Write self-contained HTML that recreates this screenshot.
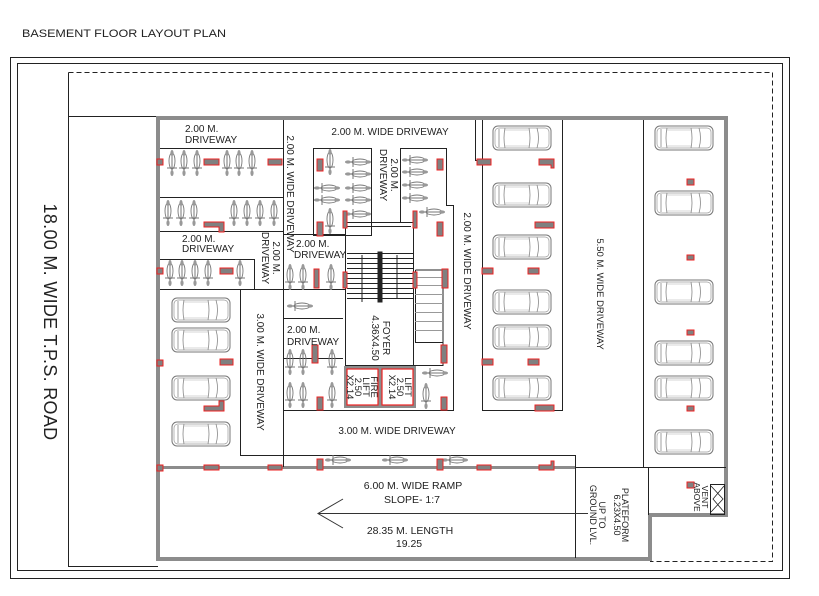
<!DOCTYPE html>
<html><head><meta charset="utf-8"><style>
html,body{margin:0;padding:0;background:#fff;}
svg{display:block;}
text{font-family:"Liberation Sans",sans-serif;fill:#222;}
</style></head><body>
<svg width="819" height="596" viewBox="0 0 819 596" xmlns="http://www.w3.org/2000/svg">
<defs>
 <g id="car">
  <rect x="0" y="0" width="58" height="24" rx="5" fill="none" stroke="#777" stroke-width="1"/>
  <rect x="2" y="2" width="54" height="20" rx="4" fill="none" stroke="#999" stroke-width="0.7"/>
  <path d="M12 2 Q10 12 12 22 M36 2 Q38 12 36 22 M44 2 Q47 12 44 22 M6 3 L6 21" fill="none" stroke="#888" stroke-width="0.8"/>
  <path d="M12 4 L36 4 M12 20 L36 20" stroke="#aaa" stroke-width="0.6"/>
 </g>
 <g id="bike">
  <line x1="0" y1="-13" x2="0" y2="13" stroke="#777" stroke-width="1"/>
  <ellipse cx="0" cy="-2" rx="3" ry="8" fill="none" stroke="#777" stroke-width="0.9"/>
  <line x1="-5" y1="5" x2="5" y2="5" stroke="#777" stroke-width="1"/>
  <ellipse cx="0" cy="-10" rx="1.6" ry="3" fill="#999"/>
  <ellipse cx="0" cy="10" rx="1.6" ry="3" fill="#999"/>
 </g>
 <g id="bikeh"><use href="#bike" transform="rotate(90)"/></g>
</defs>

<text x="22" y="37" font-size="11" textLength="204" lengthAdjust="spacingAndGlyphs">BASEMENT FLOOR LAYOUT PLAN</text>

<rect x="10.5" y="57.5" width="779" height="521" fill="none" stroke="#222" stroke-width="1"/>
<rect x="17.5" y="63.5" width="765" height="507" fill="none" stroke="#222" stroke-width="1"/>
<path d="M68.5 72.5 H772.5 V561.5 H650" fill="none" stroke="#222" stroke-width="1" stroke-dasharray="5,3"/>
<path d="M68.5 72.5 V567" fill="none" stroke="#222" stroke-width="1"/>
<path d="M68.5 116.5 H158 M68.5 566.5 H158" fill="none" stroke="#222"/>
<text transform="translate(44,322) rotate(90)" font-size="18" letter-spacing="0.3" text-anchor="middle">18.00 M. WIDE  T.P.S.  ROAD</text>

<path d="M158 559 V118 H726 V515 H650 V559 Z" fill="none" stroke="#8c8c8c" stroke-width="4"/>
<line x1="158" y1="467.5" x2="575" y2="467.5" stroke="#8c8c8c" stroke-width="3"/>

<g stroke="#222" stroke-width="1" fill="none">
 <path d="M160 148.5 H283 M160 197.5 H283 M160 231.5 H283 M160 289.5 H345"/>
 <path d="M160 259.5 H254.5 V289"/>
 <line x1="283.5" y1="120" x2="283.5" y2="467"/>
 <path d="M240.5 289 V455.5 H575.5 V467"/>
 <path d="M283 234.5 H345"/>
 <path d="M283 318.5 H343 M283 358.5 H343"/>
 <rect x="313.5" y="148.5" width="58" height="87"/>
 <path d="M400.5 222 V148.5 H446.5 V205.5 H453.5 V410.5 H283"/>
 <rect x="345.5" y="222.5" width="68" height="143"/>
 <path d="M347 226.5 H411"/>
 <path d="M443 270 V365.5 H413"/>
 <path d="M415.5 270 H443 M415.5 270 V342.5 H443"/>
 <path d="M482.5 120 V410.5 H562.5 V120"/>
 <path d="M475.5 120 V160.5 H482"/>
 <line x1="643.5" y1="120" x2="643.5" y2="467"/>
 <path d="M575.5 467 V558 M648.5 467 V515 M575 467.5 H726"/>
 <rect x="710.5" y="484.5" width="14" height="30"/>
 <path d="M711 486 L723 499 L711 512 M724 486 L713 499 L724 512" stroke-width="0.8"/>
</g>
<g stroke="#222" stroke-width="1">
 <path d="M347 253.5H378 M347 258.5H378 M347 263.5H378 M347 268.5H378 M347 273.5H378 M347 278.5H378 M347 283.5H378 M347 288.5H378 M347 293.5H378 M347 298.5H378"/>
 <path d="M382 253.5H413 M382 258.5H413 M382 263.5H413 M382 268.5H413 M382 273.5H413 M382 278.5H413 M382 283.5H413 M382 288.5H413 M382 293.5H413 M382 298.5H413"/>
 <rect x="378" y="252" width="4" height="50" fill="#222"/>
 <line x1="362" y1="255" x2="362" y2="302"/><line x1="397" y1="255" x2="397" y2="298"/>
</g>
<g stroke="#999" stroke-width="1">
 <path d="M415 277.5H443 M415 285.5H443 M415 294.5H443 M415 303.5H443 M415 312.5H443 M415 321.5H443 M415 330.5H443"/>
</g>
<rect x="344" y="366" width="72" height="42" fill="#8c8c8c"/>
<rect x="347" y="369" width="31" height="36" fill="#fff" stroke="#e22" stroke-width="1.2"/>
<rect x="382" y="369" width="31" height="36" fill="#fff" stroke="#e22" stroke-width="1.2"/>

<g stroke="#333" stroke-width="1" fill="none">
 <line x1="318" y1="513.5" x2="588" y2="513.5"/>
 <path d="M343 499 L318 513.5 L343 528"/>
</g>

<g>
 <use href="#car" x="172" y="298"/><use href="#car" x="172" y="328"/><use href="#car" x="172" y="376"/><use href="#car" x="172" y="422"/>
 <use href="#car" x="493" y="126"/><use href="#car" x="493" y="183"/><use href="#car" x="493" y="235"/><use href="#car" x="493" y="290"/><use href="#car" x="493" y="325"/><use href="#car" x="493" y="376"/>
 <use href="#car" x="655" y="126"/><use href="#car" x="655" y="191"/><use href="#car" x="655" y="280"/><use href="#car" x="655" y="341"/><use href="#car" x="655" y="376"/><use href="#car" x="655" y="430"/>
</g>
<g>
 <use href="#bike" x="172" y="163"/><use href="#bike" x="184" y="163"/><use href="#bike" x="197" y="163"/>
 <use href="#bike" x="227" y="163"/><use href="#bike" x="239" y="163"/><use href="#bike" x="252" y="163"/>
 <use href="#bike" x="168" y="213"/><use href="#bike" x="181" y="213"/><use href="#bike" x="194" y="213"/>
 <use href="#bike" x="234" y="213"/><use href="#bike" x="247" y="213"/><use href="#bike" x="260" y="213"/><use href="#bike" x="274" y="213"/>
 <use href="#bike" x="170" y="273"/><use href="#bike" x="182" y="273"/><use href="#bike" x="195" y="273"/><use href="#bike" x="208" y="273"/><use href="#bike" x="240" y="273"/>
 <use href="#bike" x="330" y="162"/><use href="#bike" x="330" y="221"/>
 <use href="#bikeh" x="358" y="162"/><use href="#bikeh" x="358" y="174"/><use href="#bikeh" x="358" y="188"/><use href="#bikeh" x="358" y="200"/><use href="#bikeh" x="358" y="214"/>
 <use href="#bikeh" x="327" y="188"/><use href="#bikeh" x="327" y="200"/>
 <use href="#bikeh" x="415" y="160"/><use href="#bikeh" x="415" y="172"/><use href="#bikeh" x="415" y="185"/><use href="#bikeh" x="415" y="198"/><use href="#bikeh" x="432" y="212"/>
 <use href="#bike" x="290" y="277"/><use href="#bike" x="303" y="277"/><use href="#bike" x="331" y="277"/>
 <use href="#bikeh" x="300" y="306"/>
 <use href="#bike" x="290" y="362"/><use href="#bike" x="303" y="362"/><use href="#bike" x="332" y="362"/>
 <use href="#bike" x="290" y="395"/><use href="#bike" x="303" y="395"/><use href="#bike" x="332" y="395"/>
 <use href="#bikeh" x="435" y="373"/><use href="#bike" x="426" y="396"/>
 <use href="#bikeh" x="338" y="460"/><use href="#bikeh" x="395" y="460"/><use href="#bikeh" x="455" y="460"/>
</g>

<g fill="#808080" stroke="#e22" stroke-width="1">
 <rect x="157" y="159" width="6" height="6"/><rect x="157" y="268" width="6" height="6"/><rect x="157" y="360" width="6" height="6"/><rect x="157" y="465" width="6" height="6"/>
 <rect x="204" y="159" width="15" height="6"/><rect x="268" y="159" width="14" height="6"/>
 <path d="M204 222 H224 V232 H219 V227 H204 Z"/>
 <rect x="220" y="268" width="13" height="6"/><rect x="220" y="359" width="13" height="6"/>
 <path d="M204 406 H219 V401 H224 V411 H204 Z"/>
 <rect x="204" y="465" width="15" height="5"/><rect x="268" y="465" width="14" height="5"/>
 <rect x="317" y="159" width="6" height="12"/><rect x="317" y="222" width="6" height="14"/>
 <rect x="343" y="211" width="4" height="17"/><rect x="413" y="211" width="4" height="17"/>
 <rect x="437" y="159" width="6" height="11"/><rect x="437" y="222" width="6" height="14"/>
 <rect x="314" y="269" width="5" height="19"/><rect x="343" y="272" width="4" height="16"/><rect x="413" y="272" width="4" height="16"/><rect x="442" y="269" width="6" height="19"/>
 <rect x="312" y="345" width="6" height="18"/><rect x="317" y="397" width="6" height="13"/>
 <rect x="441" y="345" width="6" height="18"/><rect x="441" y="397" width="6" height="13"/>
 <rect x="317" y="459" width="6" height="11"/><rect x="437" y="459" width="6" height="11"/>
 <rect x="477" y="159" width="14" height="6"/><path d="M539 159 H554 V168 H551 V165 H539 Z"/>
 <rect x="535" y="222" width="19" height="6"/>
 <rect x="482" y="268" width="11" height="6"/><rect x="528" y="268" width="11" height="6"/>
 <rect x="482" y="359" width="11" height="6"/><rect x="528" y="359" width="11" height="6"/>
 <rect x="535" y="405" width="19" height="6"/>
 <rect x="477" y="465" width="14" height="5"/><path d="M539 465 H551 V461 H554 V470 H539 Z"/>
 <rect x="687" y="179" width="7" height="6"/><rect x="687" y="255" width="7" height="5"/><rect x="687" y="330" width="7" height="5"/><rect x="687" y="406" width="7" height="5"/><rect x="687" y="482" width="7" height="6"/>
</g>

<g font-size="10">
 <text x="185" y="132">2.00 M.</text><text x="185" y="143">DRIVEWAY</text>
 <text x="390" y="135" text-anchor="middle">2.00 M. WIDE DRIVEWAY</text>
 <text transform="translate(287,194) rotate(90)" text-anchor="middle">2.00 M. WIDE DRIVEWAY</text>
 <text transform="translate(380,175) rotate(90)" text-anchor="middle">DRIVEWAY</text>
 <text transform="translate(391,175) rotate(90)" text-anchor="middle">2.00 M.</text>
 <text x="182" y="242">2.00 M.</text><text x="182" y="252">DRIVEWAY</text>
 <text transform="translate(262,258) rotate(90)" text-anchor="middle">DRIVEWAY</text>
 <text transform="translate(273,258) rotate(90)" text-anchor="middle">2.00 M.</text>
 <text x="296" y="247">2.00 M.</text><text x="294" y="258">DRIVEWAY</text>
 <text transform="translate(464,271) rotate(90)" text-anchor="middle">2.00 M. WIDE DRIVEWAY</text>
 <text transform="translate(597,294) rotate(90)" text-anchor="middle" font-size="9.5">5.50 M. WIDE DRIVEWAY</text>
 <text transform="translate(257,372) rotate(90)" text-anchor="middle">3.00 M. WIDE DRIVEWAY</text>
 <text x="287" y="333">2.00 M.</text><text x="287" y="345">DRIVEWAY</text>
 <text transform="translate(383,338) rotate(90)" text-anchor="middle">FOYER</text>
 <text transform="translate(372,338) rotate(90)" text-anchor="middle">4.36X4.50</text>
 <text transform="translate(371,387) rotate(90)" text-anchor="middle" font-size="9.5">FIRE</text>
 <text transform="translate(363,387) rotate(90)" text-anchor="middle" font-size="9.5">LIFT</text>
 <text transform="translate(355,387) rotate(90)" text-anchor="middle" font-size="9.5">2.50</text>
 <text transform="translate(347,387) rotate(90)" text-anchor="middle" font-size="9.5">X2.14</text>
 <text transform="translate(405,387) rotate(90)" text-anchor="middle" font-size="9.5">LIFT</text>
 <text transform="translate(397,387) rotate(90)" text-anchor="middle" font-size="9.5">2.50</text>
 <text transform="translate(389,387) rotate(90)" text-anchor="middle" font-size="9.5">X2.14</text>
 <text x="397" y="434" text-anchor="middle">3.00 M. WIDE DRIVEWAY</text>
 <text x="413" y="489" text-anchor="middle" font-size="10.5">6.00 M. WIDE RAMP</text>
 <text x="412" y="503" text-anchor="middle" font-size="10.5">SLOPE- 1:7</text>
 <text x="410" y="534" text-anchor="middle" font-size="10.5">28.35 M. LENGTH</text>
 <text x="409" y="547" text-anchor="middle" font-size="10.5">19.25</text>
 <text transform="translate(622,515) rotate(90)" text-anchor="middle" font-size="9">PLATEFORM</text>
 <text transform="translate(614,515) rotate(90)" text-anchor="middle" font-size="9">6.23X4.50</text>
 <text transform="translate(599,515) rotate(90)" text-anchor="middle" font-size="9">UP TO</text>
 <text transform="translate(590,515) rotate(90)" text-anchor="middle" font-size="9">GROUND LVL.</text>
 <text transform="translate(702,497) rotate(90)" text-anchor="middle" font-size="8.5">VENT</text>
 <text transform="translate(694,497) rotate(90)" text-anchor="middle" font-size="8.5">ABOVE</text>
</g>
</svg>
</body></html>
